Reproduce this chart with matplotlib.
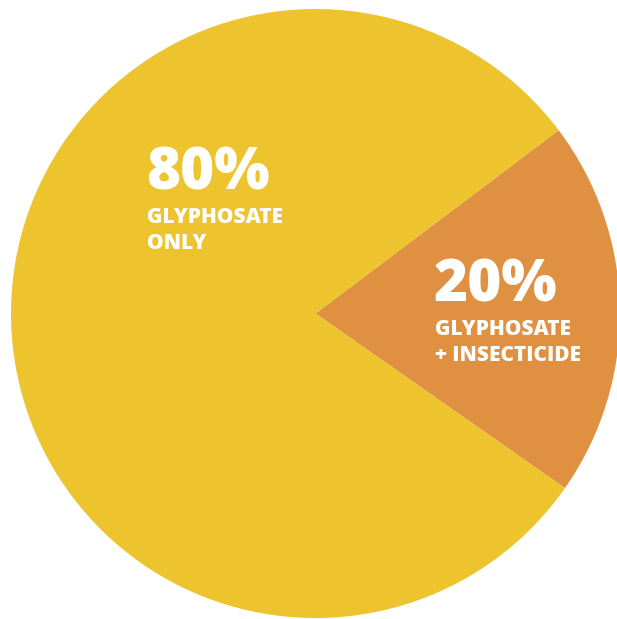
import matplotlib
matplotlib.use("Agg")
import matplotlib.pyplot as plt

# share of applications by treatment
labels = [["GLYPHOSATE", "+ INSECTICIDE"], ["GLYPHOSATE", "ONLY"]]
shares = [20, 80]
colors = ["#DF9041", "#EDC42E"]

W, H = 617, 619
fig = plt.figure(figsize=(W / 100, H / 100), dpi=100)
ax = fig.add_axes([0, 0, 1, 1])

cx, cy, r = 315.5, H - 313.5, 304.5
ax.pie(shares, colors=colors, startangle=-35, counterclock=True,
       center=(cx, cy), radius=r, frame=True,
       wedgeprops=dict(linewidth=0))
ax.set_xlim(0, W)
ax.set_ylim(0, H)
ax.set_aspect("equal")
ax.axis("off")

font = "Open Sans"
# big percentage + caption lines for each slice (pixel baselines from top)
label_pos = [(434, 302), (146, 190)]
for (x, y), pct, lines in zip(label_pos, shares, labels):
    ax.text(x, H - y, f"{pct}%", color="white", fontsize=42, fontweight="heavy",
            family=font, ha="left", va="baseline")
    for i, line in enumerate(lines):
        ax.text(x + 1, H - (y + 33 + 26 * i), line, color="white", fontsize=15,
                fontweight="heavy", family=font, ha="left", va="baseline")

fig.savefig("out.png", dpi=100)
